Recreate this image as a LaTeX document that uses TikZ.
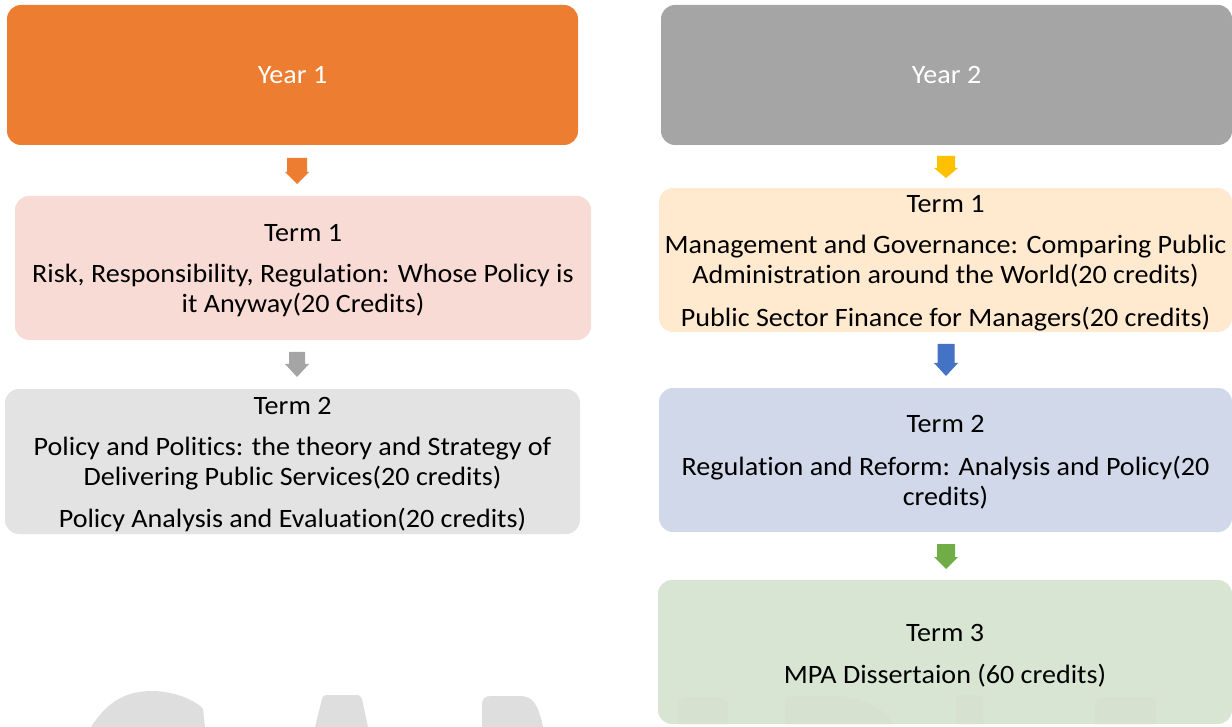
\documentclass[tikz,border=0pt]{standalone}
\usepackage{fontspec}
\setmainfont{Carlito}[FakeStretch=1.06,Ligatures=NoCommon,RawFeature={-liga;-clig;-calt;-dlig}]
\definecolor{yearone}{HTML}{ED7D31}
\definecolor{yeartwo}{HTML}{A5A5A5}
\definecolor{pinkbox}{HTML}{F8DBD4}
\definecolor{greybox}{HTML}{E3E3E3}
\definecolor{peachbox}{HTML}{FFE9CF}
\definecolor{bluebox}{HTML}{D0D8EA}
\definecolor{greenbox}{HTML}{D9E5D3}
\definecolor{arrorange}{HTML}{ED7D31}
\definecolor{arrgrey}{HTML}{A5A5A5}
\definecolor{arryellow}{HTML}{FFC000}
\definecolor{arrblue}{HTML}{4472C4}
\definecolor{arrgreen}{HTML}{70AD47}
\definecolor{wmark}{HTML}{DEDEDE}
\definecolor{wmarkgreen}{HTML}{D6E2CF}
\newcommand\blockarrow[6]{% cx, top, headstart, tip, shaft half width, colour
  \fill[#6] ({#1-#5},#2) -- ({#1+#5},#2) -- ({#1+#5},#3) -- ({#1+12},#3) -- (#1,#4) -- ({#1-12},#3) -- ({#1-#5},#3) -- cycle;}
\begin{document}
\begin{tikzpicture}[x=1pt,y=-1pt,
  box/.style={rectangle, rounded corners=14pt, inner sep=0pt},
  boxtext/.style={align=center, inner sep=0pt, font=\fontsize{26.5}{30}\selectfont, text=black},
  yearbox/.style={box, align=center, font=\fontsize{26.5}{30}\selectfont, text=white, minimum width=571pt, minimum height=140pt}]
\useasboundingbox (0,0) rectangle (1232,727);
% watermark left
\fill[wmark] (91,727) .. controls (108,700) and (128,691) .. (152,691) .. controls (176,691) and (198,702) .. (203,709) -- (205,727) -- cycle;
\fill[wmark] (315,727) -- (322,699) .. controls (323,695) and (325,695) .. (330,695) -- (355,695) .. controls (360,695) and (361,696) .. (362,699) -- (368,727) -- cycle;
\fill[wmark] (482,727) -- (482,704) .. controls (482,699) and (485,696) .. (491,696) -- (520,696) .. controls (532,696) and (538,703) .. (543,727) -- cycle;
% boxes
\node[yearbox, fill=yearone] (y1) at (292.5,75) {Year 1};
\node[yearbox, fill=yeartwo] (y2) at (946.5,75) {Year 2};
\node[box, fill=pinkbox, minimum width=576pt, minimum height=144pt] (l1) at (303,268) {};
\node[box, fill=greybox, minimum width=575pt, minimum height=145pt] (l2) at (292.5,461.5) {};
\node[box, fill=peachbox, minimum width=573pt, minimum height=144pt] (r1) at (945.5,260) {};
\node[box, fill=bluebox, minimum width=573pt, minimum height=144pt] (r2) at (945.5,460) {};
\node[box, fill=greenbox, minimum width=574pt, minimum height=144pt] (r3) at (945,652) {};
% box texts
\node[boxtext] (l1t) at ([yshift=-3pt]l1.center)
  {Term 1\\[11pt]Risk, Responsibility, Regulation: Whose Policy is\\it Anyway(20 Credits)};
\node[boxtext] (l2t) at ([yshift=-3pt]l2.center)
  {Term 2\\[11pt]Policy and Politics: the theory and Strategy of\\Delivering Public Services(20 credits)\\[12pt]Policy Analysis and Evaluation(20 credits)};
\node[boxtext] (r1t) at ([yshift=-3pt]r1.center)
  {Term 1\\[11pt]Management and Governance: Comparing Public\\Administration around the World(20 credits)\\[13pt]Public Sector Finance for Managers(20 credits)};
\node[boxtext] (r2t) at ([yshift=-2.5pt]r2.center)
  {Term 2\\[13pt]Regulation and Reform: Analysis and Policy(20\\credits)};
\node[boxtext] (r3t) at ([yshift=-3.5pt]r3.center)
  {Term 3\\[12pt]MPA Dissertaion (60 credits)};
% watermark right (faint, over green box)
\fill[wmarkgreen] (678,724) -- (678,705) .. controls (678,699) and (683,697) .. (690,697) -- (716,697) .. controls (724,697) and (728,701) .. (728,708) -- (728,724) -- cycle;
\fill[wmarkgreen] (785,724) -- (785,702) .. controls (785,698) and (788,696) .. (794,696) -- (830,696) .. controls (860,696) and (885,708) .. (893,724) -- cycle;
\fill[wmarkgreen] (956,724) -- (956,700) .. controls (956,697) and (958,695) .. (962,695) -- (977,695) .. controls (981,695) and (983,697) .. (983,700) -- (983,724) -- cycle;
\fill[wmarkgreen] (1095,724) -- (1095,706) .. controls (1095,700) and (1100,697) .. (1108,697) -- (1150,697) .. controls (1155,697) and (1156,700) .. (1156,706) -- (1156,724) -- cycle;
% arrows
\blockarrow{297}{158}{172}{184}{10}{arrorange}
\blockarrow{297}{352}{364}{377}{8}{arrgrey}
\blockarrow{946}{156}{168}{178}{9}{arryellow}
\blockarrow{946}{344}{363}{376}{8.5}{arrblue}
\blockarrow{946}{544}{557}{569}{9}{arrgreen}
\end{tikzpicture}
\end{document}
